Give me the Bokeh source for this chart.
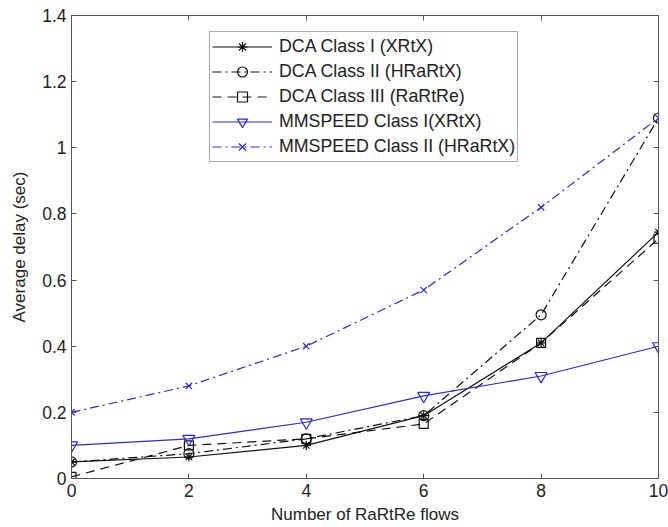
from bokeh.plotting import figure
from bokeh.models import FixedTicker, LinearAxis, Range1d, Legend
from bokeh.embed import file_html
from bokeh.resources import INLINE

x_flows = [0, 2, 4, 6, 8, 10]
dca_class1 = [0.05, 0.065, 0.10, 0.19, 0.41, 0.745]
dca_class2 = [0.05, 0.075, 0.12, 0.19, 0.495, 1.09]
dca_class3 = [0.005, 0.10, 0.12, 0.165, 0.41, 0.725]
mmspeed_class1 = [0.10, 0.12, 0.17, 0.25, 0.31, 0.40]
mmspeed_class2 = [0.20, 0.28, 0.40, 0.57, 0.82, 1.09]

x_ticks = [0, 2, 4, 6, 8, 10]
y_ticks = [0, 0.2, 0.4, 0.6, 0.8, 1.0, 1.2, 1.4]
y_tick_labels = ["0", "0.2", "0.4", "0.6", "0.8", "1", "1.2", "1.4"]

FONT = "Liberation Sans"
BLUE = "#2a2ad0"
BLACK = "#111111"
AXIS = "#555555"
TEXT = "#222222"

p = figure(width=668, height=527, output_backend="svg", toolbar_location=None,
           x_range=Range1d(0, 10), y_range=Range1d(0, 1.4),
           min_border_left=71, min_border_right=10, min_border_top=15, min_border_bottom=49)
p.xgrid.visible = False
p.ygrid.visible = False
p.outline_line_color = AXIS
p.background_fill_color = "white"

def style_axis(ax):
    ax.axis_line_color = AXIS
    ax.major_tick_line_color = AXIS
    ax.major_tick_in = 5
    ax.major_tick_out = 0
    ax.minor_tick_line_color = None
    ax.major_label_text_font = FONT
    ax.major_label_text_font_size = "17.5px"
    ax.major_label_text_color = TEXT
    ax.major_label_standoff = 5

p.xaxis.ticker = FixedTicker(ticks=x_ticks)
p.yaxis.ticker = FixedTicker(ticks=y_ticks)
p.yaxis.major_label_overrides = {v: s for v, s in zip(y_ticks, y_tick_labels)}
style_axis(p.xaxis[0])
style_axis(p.yaxis[0])
p.xaxis.axis_label = "Number of RaRtRe flows"
p.yaxis.axis_label = "Average delay (sec)"
for ax in (p.xaxis[0], p.yaxis[0]):
    ax.axis_label_text_font = FONT
    ax.axis_label_text_font_size = "17px"
    ax.axis_label_text_font_style = "normal"
    ax.axis_label_text_color = TEXT
p.xaxis.axis_label_standoff = 5
p.yaxis.axis_label_standoff = 10

# box ticks on top and right (tick marks only, no labels)
for ticks, place in ((x_ticks, "above"), (y_ticks, "right")):
    ax = LinearAxis(ticker=FixedTicker(ticks=[], minor_ticks=ticks))
    ax.axis_line_color = AXIS
    ax.major_tick_line_color = None
    ax.minor_tick_line_color = AXIS
    ax.minor_tick_in = 5
    ax.minor_tick_out = 0
    p.add_layout(ax, place)

items = []
r1 = p.line(x_flows, dca_class1, line_color=BLACK, line_width=1.2)
m1 = p.scatter(x_flows, dca_class1, marker="asterisk", size=9, line_color=BLACK, line_width=1.2)
items.append(("DCA Class I (XRtX)", [r1, m1]))
r2 = p.line(x_flows, dca_class2, line_color=BLACK, line_width=1.2, line_dash="9 4 2 4")
m2 = p.scatter(x_flows, dca_class2, marker="circle", size=10, line_color=BLACK, fill_color=None, line_width=1.2)
items.append(("DCA Class II (HRaRtX)", [r2, m2]))
r3 = p.line(x_flows, dca_class3, line_color=BLACK, line_width=1.2, line_dash="9 6")
m3 = p.scatter(x_flows, dca_class3, marker="square", size=9, line_color=BLACK, fill_color=None, line_width=1.2)
items.append(("DCA Class III (RaRtRe)", [r3, m3]))
r4 = p.line(x_flows, mmspeed_class1, line_color=BLUE, line_width=1.2)
m4 = p.scatter(x_flows, mmspeed_class1, marker="inverted_triangle", size=12, line_color=BLUE, fill_color=None, line_width=1.2)
items.append(("MMSPEED Class I(XRtX)", [r4, m4]))
r5 = p.line(x_flows, mmspeed_class2, line_color=BLUE, line_width=1.2, line_dash="9 4 2 4")
m5 = p.scatter(x_flows, mmspeed_class2, marker="x", size=9, line_color=BLUE, line_width=1.2)
items.append(("MMSPEED Class II (HRaRtX)", [r5, m5]))

legend = Legend(items=items, location=(138, 316))
legend.label_text_font = FONT
legend.label_text_font_size = "17.8px"
legend.label_text_color = TEXT
legend.glyph_width = 60
legend.glyph_height = 25
legend.label_height = 25
legend.spacing = 0
legend.padding = 2
legend.margin = 0
legend.label_standoff = 7
legend.border_line_color = AXIS
legend.border_line_width = 1
legend.background_fill_color = "white"
legend.background_fill_alpha = 1
p.add_layout(legend, "center")

open("out.html", "w").write(file_html(p, INLINE))
